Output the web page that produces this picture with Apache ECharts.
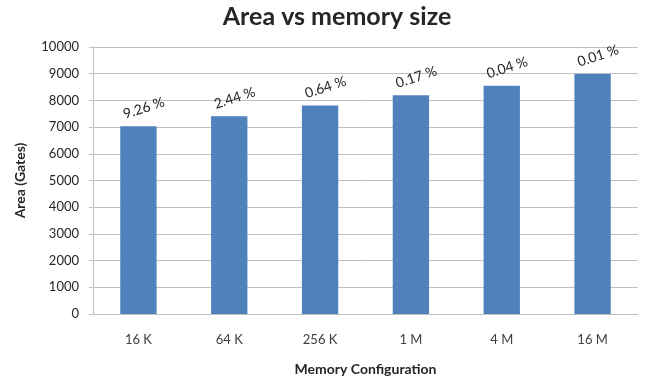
<!DOCTYPE html>
<html><head><meta charset="utf-8">
<script src="https://cdn.jsdelivr.net/npm/echarts@6/dist/echarts.min.js"></script>
<style>html,body{margin:0;padding:0;background:#fff}#c{width:646px;height:382px}</style>
</head><body><div id="c"></div>
<script>
const categories = ['16 K', '64 K', '256 K', '1 M', '4 M', '16 M'];
const areaValues = [7030, 7410, 7810, 8195, 8545, 8990];
const percentLabels = ['9.26 %', '2.44 %', '0.64 %', '0.17 %', '0.04 %', '0.01 %'];
const yMin = 0, yMax = 10000, yInterval = 1000;

const chart = echarts.init(document.getElementById('c'));
const font = 'Lato, "Open Sans", sans-serif';
chart.setOption({
  animation: false,
  title: {
    text: 'Area vs memory size', left: 332, top: -1, textAlign: 'center',
    textStyle: { fontFamily: font, fontSize: 25, fontWeight: 'bold', color: '#262626' }
  },
  grid: { left: 93, right: 8, top: 47, bottom: 68, outerBoundsMode: 'none', containLabel: false },
  xAxis: {
    type: 'category', data: categories,
    name: 'Memory Configuration', nameLocation: 'middle', nameGap: 48,
    nameTextStyle: { fontFamily: font, fontSize: 14, fontWeight: 'bold', color: '#262626' },
    axisLine: { lineStyle: { color: '#bfbfbf' } },
    axisTick: { show: false },
    axisLabel: { fontFamily: font, fontSize: 13, color: '#404040', margin: 19 }
  },
  yAxis: {
    type: 'value', min: yMin, max: yMax, interval: yInterval,
    name: 'Area (Gates)', nameLocation: 'middle', nameGap: 66,
    nameTextStyle: { fontFamily: font, fontSize: 14, fontWeight: 'bold', color: '#262626' },
    axisLine: { show: true, lineStyle: { color: '#bfbfbf' } },
    axisTick: { show: true, length: 4, lineStyle: { color: '#bfbfbf' } },
    splitLine: { lineStyle: { color: '#bfbfbf' } },
    axisLabel: { fontFamily: font, fontSize: 13, color: '#262626', margin: 14, formatter: v => String(v) }
  },
  series: [{
    type: 'bar', data: areaValues, barWidth: '40%',
    itemStyle: { color: '#4f81bd' },
    label: {
      show: true, position: 'top', rotate: 18, distance: 9, offset: [8, 0],
      fontFamily: font, fontSize: 14, color: '#262626',
      formatter: p => percentLabels[p.dataIndex]
    }
  }]
});
</script></body></html>
